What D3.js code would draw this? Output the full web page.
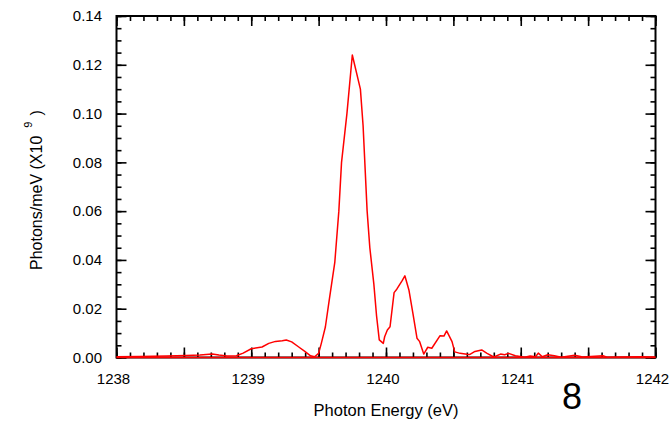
<!DOCTYPE html>
<html>
<head>
<meta charset="utf-8">
<script src="https://cdn.jsdelivr.net/npm/d3@7"></script>
<style>
  body { margin: 0; background: #fff; }
  text { font-family: "Liberation Sans", Arial, sans-serif; }
</style>
</head>
<body>
<div id="plot"></div>
<script>
// spectrum (eV, photons/meV x1e9)
const energy = [1238.00, 1238.17, 1238.37, 1238.52, 1238.62, 1238.71, 1238.76, 1238.82, 1238.89, 1238.94,
  1239.00, 1239.08, 1239.13, 1239.18, 1239.23, 1239.26, 1239.30, 1239.35, 1239.40, 1239.44,
  1239.47, 1239.50, 1239.52, 1239.55, 1239.58, 1239.62, 1239.65, 1239.67, 1239.71, 1239.75,
  1239.81, 1239.83, 1239.86, 1239.88, 1239.91, 1239.93, 1239.95, 1239.98, 1239.99, 1240.01,
  1240.03, 1240.06, 1240.08, 1240.12, 1240.14, 1240.17, 1240.20, 1240.23, 1240.25, 1240.28,
  1240.31, 1240.34, 1240.40, 1240.43, 1240.45, 1240.49, 1240.51, 1240.55, 1240.60, 1240.62,
  1240.66, 1240.71, 1240.75, 1240.80, 1240.85, 1240.88, 1240.91, 1240.96, 1241.03, 1241.07,
  1241.11, 1241.13, 1241.16, 1241.20, 1241.25, 1241.30, 1241.40, 1241.46, 1241.61, 1241.64,
  1241.74, 1241.88, 1242.00]
const photons = [0.0003, 0.0004, 0.0006, 0.0008, 0.0010, 0.0014, 0.0010, 0.0006, 0.0007, 0.0018,
  0.0036, 0.0043, 0.0058, 0.0066, 0.0069, 0.0072, 0.0064, 0.0044, 0.0024, 0.0007,
  0.0003, 0.0017, 0.0058, 0.0125, 0.024, 0.039, 0.060, 0.080, 0.100, 0.124,
  0.110, 0.095, 0.060, 0.045, 0.030, 0.017, 0.0072, 0.0058, 0.0085, 0.0113,
  0.0126, 0.0266, 0.028, 0.0315, 0.0335, 0.0277, 0.018, 0.0079, 0.0065, 0.0014,
  0.0042, 0.0038, 0.0089, 0.0088, 0.0109, 0.0065, 0.0023, 0.0017, 0.0013, 0.0012,
  0.0025, 0.0031, 0.0017, 0.0002, 0.0014, 0.0011, 0.0017, 0.0007, 0.0001, 0.0006,
  0.0003, 0.0018, 0.0003, 0.0011, 0.0007, 0.0001, 0.0009, 0.0002, 0.0007, 0.0001,
  0.0002, 0.0003, 0.0002]
// flat zero line drawn along the bottom
const baseEnergy = [1238, 1242]
const baseValue = [0, 0]

const xLabelTicks = [1238, 1239, 1240, 1241, 1242]
const xHalfTicks = [1238.5, 1239.5, 1240.5, 1241.5]
const yLabelTicks = [0, 0.02, 0.04, 0.06, 0.08, 0.10, 0.12, 0.14]

const W = 672, H = 421
const svg = d3.select('#plot').append('svg')
  .attr('width', W).attr('height', H)

const x = d3.scaleLinear().domain([1238, 1242]).range([116.5, 655.5])
const y = d3.scaleLinear().domain([0, 0.14]).range([357.5, 16])

const xMinor = d3.range(0, 41).map(i => 1238 + i * 0.1)
const yMinor = d3.range(0, 29).map(i => i * 0.005)

function styleAxis(g) {
  g.select('.domain').remove()
  g.selectAll('line').attr('stroke', '#000').attr('stroke-width', 1.6)
  g.selectAll('text').attr('fill', '#000').style('font-size', '15px')
}

// bottom
svg.append('g').attr('transform', `translate(0,${y(0)})`)
  .call(d3.axisBottom(x).tickValues(xMinor).tickSize(-5).tickFormat(''))
  .call(styleAxis)
svg.append('g').attr('transform', `translate(0,${y(0)})`)
  .call(d3.axisBottom(x).tickValues(xHalfTicks).tickSize(-10).tickFormat(''))
  .call(styleAxis)
svg.append('g').attr('transform', `translate(0,${y(0)})`)
  .call(d3.axisBottom(x).tickValues(xLabelTicks).tickSize(-10).tickPadding(16).tickFormat(d3.format('d')))
  .call(styleAxis)
  .selectAll('text').attr('dx', -3.5)

// top
svg.append('g').attr('transform', `translate(0,${y(0.14)})`)
  .call(d3.axisTop(x).tickValues(xMinor).tickSize(-5).tickFormat(''))
  .call(styleAxis)
svg.append('g').attr('transform', `translate(0,${y(0.14)})`)
  .call(d3.axisTop(x).tickValues(xLabelTicks.concat(xHalfTicks)).tickSize(-10).tickFormat(''))
  .call(styleAxis)

// left
svg.append('g').attr('transform', `translate(${x(1238)},0)`)
  .call(d3.axisLeft(y).tickValues(yMinor).tickSize(-5).tickFormat(''))
  .call(styleAxis)
svg.append('g').attr('transform', `translate(${x(1238)},0)`)
  .call(d3.axisLeft(y).tickValues(yLabelTicks).tickSize(-10).tickPadding(14.5).tickFormat(d3.format('.2f')))
  .call(styleAxis)

// right
svg.append('g').attr('transform', `translate(${x(1242)},0)`)
  .call(d3.axisRight(y).tickValues(yMinor).tickSize(-5).tickFormat(''))
  .call(styleAxis)
svg.append('g').attr('transform', `translate(${x(1242)},0)`)
  .call(d3.axisRight(y).tickValues(yLabelTicks).tickSize(-10).tickFormat(''))
  .call(styleAxis)

// frame
svg.append('rect')
  .attr('x', x(1238)).attr('y', y(0.14))
  .attr('width', x(1242) - x(1238)).attr('height', y(0) - y(0.14))
  .attr('fill', 'none').attr('stroke', '#000').attr('stroke-width', 2)

// data lines
const line = d3.line().x(d => x(d[0])).y(d => y(d[1]))
svg.append('path')
  .datum(baseEnergy.map((e, i) => [e, baseValue[i]]))
  .attr('d', line).attr('fill', 'none').attr('stroke', 'red').attr('stroke-width', 1.5)
svg.append('path')
  .datum(energy.map((e, i) => [e, photons[i]]))
  .attr('d', line).attr('fill', 'none').attr('stroke', 'red').attr('stroke-width', 1.5)
  .attr('stroke-linejoin', 'round')

// titles
svg.append('text').attr('x', 386).attr('y', 416).attr('text-anchor', 'middle')
  .style('font-size', '16.5px').text('Photon Energy (eV)')

const yl = svg.append('text').attr('transform', 'translate(42,270) rotate(-90)')
  .style('font-size', '16px')
yl.append('tspan').text('Photons/meV (X10')
yl.append('tspan').attr('dx', 8).attr('dy', -10).style('font-size', '11px').text('9')
yl.append('tspan').attr('dx', 6).attr('dy', 10).text(')')

svg.append('text').attr('x', 572).attr('y', 409).attr('text-anchor', 'middle')
  .style('font-size', '36px').text('8')
</script>
</body>
</html>
